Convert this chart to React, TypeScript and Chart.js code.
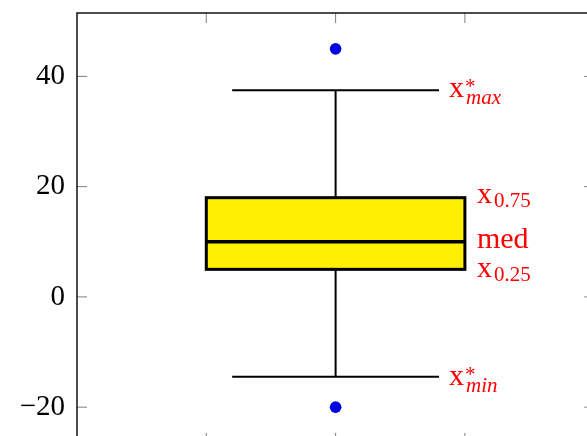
import React, { useEffect, useRef } from "react";
import { Chart, registerables } from "chart.js";

Chart.register(...registerables);

// Box plot statistics (single box at x = 1)
const boxPosition = [1];
const lowerWhisker = [-14.5];
const lowerQuartile = [5];
const medianValue = [10];
const upperQuartile = [18];
const upperWhisker = [37.5];
const outlierValues = [45, -20];

// Axis setup
const xRange = [0, 2];
const yRange = [-26.5, 51.5];
const xTicks = [0.5, 1, 1.5];
const yTicks = [-20, 0, 20, 40];

// Annotation texts: [main, superscript, subscript, italic subscript]
const labelMax = ["x", "*", "max", true];
const labelQ75 = ["x", "", "0.75", false];
const labelMed = ["med", "", "", false];
const labelQ25 = ["x", "", "0.25", false];
const labelMin = ["x", "*", "min", true];

const SERIF = '"Liberation Serif", "Times New Roman", serif';

function drawMath(
  ctx: CanvasRenderingContext2D,
  x: number,
  baseline: number,
  label: (string | boolean)[],
  subDrop: number
) {
  const [main, sup, sub, italic] = label as [string, string, string, boolean];
  ctx.font = `30px ${SERIF}`;
  ctx.fillText(main, x, baseline);
  const w = ctx.measureText(main).width;
  if (sup) {
    ctx.font = `21px ${SERIF}`;
    ctx.fillText(sup, x + w + 1, baseline - 4);
  }
  if (sub) {
    ctx.font = `${italic ? "italic " : ""}21px ${SERIF}`;
    ctx.fillText(sub, x + w + 2, baseline + subDrop);
  }
}

const boxPlotPlugin = {
  id: "boxPlot",
  beforeDatasetsDraw(chart: any) {
    const { ctx } = chart;
    const xs = chart.scales.x;
    const ys = chart.scales.y;
    boxPosition.forEach((pos, i) => {
      const cx = xs.getPixelForValue(pos);
      const bl = xs.getPixelForValue(pos - 0.5);
      const br = xs.getPixelForValue(pos + 0.5);
      const cl = xs.getPixelForValue(pos - 0.4);
      const cr = xs.getPixelForValue(pos + 0.4);
      const yLw = ys.getPixelForValue(lowerWhisker[i]);
      const yQ1 = ys.getPixelForValue(lowerQuartile[i]);
      const yMed = ys.getPixelForValue(medianValue[i]);
      const yQ3 = ys.getPixelForValue(upperQuartile[i]);
      const yUw = ys.getPixelForValue(upperWhisker[i]);
      ctx.save();
      ctx.strokeStyle = "#000";
      ctx.lineWidth = 2;
      ctx.beginPath();
      ctx.moveTo(cx, yQ3);
      ctx.lineTo(cx, yUw);
      ctx.moveTo(cl, yUw);
      ctx.lineTo(cr, yUw);
      ctx.moveTo(cx, yQ1);
      ctx.lineTo(cx, yLw);
      ctx.moveTo(cl, yLw);
      ctx.lineTo(cr, yLw);
      ctx.stroke();

      ctx.fillStyle = "#ffef00";
      ctx.fillRect(bl, yQ3, br - bl, yQ1 - yQ3);
      ctx.lineWidth = 3;
      ctx.strokeRect(bl, yQ3, br - bl, yQ1 - yQ3);
      ctx.lineWidth = 3.5;
      ctx.beginPath();
      ctx.moveTo(bl, yMed);
      ctx.lineTo(br, yMed);
      ctx.stroke();

      ctx.fillStyle = "#ff0000";
      ctx.textAlign = "left";
      ctx.textBaseline = "alphabetic";
      drawMath(ctx, cr + 10, yUw + 7, labelMax, 7);
      drawMath(ctx, br + 12, yQ3 + 5, labelQ75, 4);
      drawMath(ctx, br + 12, yMed + 6, labelMed, 0);
      drawMath(ctx, br + 12, yQ1 + 8, labelQ25, 4);
      drawMath(ctx, cr + 10, yLw + 8, labelMin, 7);
      ctx.restore();
    });
  },
  afterDraw(chart: any) {
    const { ctx, chartArea } = chart;
    const { left, right, top, bottom } = chartArea;
    const xs = chart.scales.x;
    const ys = chart.scales.y;
    ctx.save();
    ctx.strokeStyle = "rgba(0,0,0,0.5)";
    ctx.lineWidth = 1;
    const tl = 10;
    ctx.beginPath();
    yTicks.forEach((v) => {
      const y = ys.getPixelForValue(v);
      ctx.moveTo(left, y);
      ctx.lineTo(left + tl, y);
      ctx.moveTo(right, y);
      ctx.lineTo(right - tl, y);
    });
    xTicks.forEach((v) => {
      const x = xs.getPixelForValue(v);
      ctx.moveTo(x, top);
      ctx.lineTo(x, top + tl);
      ctx.moveTo(x, bottom);
      ctx.lineTo(x, bottom - tl);
    });
    ctx.stroke();
    ctx.strokeStyle = "#000";
    ctx.lineWidth = 1.4;
    ctx.strokeRect(left, top, right - left, bottom - top);
    ctx.restore();
  },
};

export default function App() {
  const canvasRef = useRef<HTMLCanvasElement | null>(null);

  useEffect(() => {
    if (!canvasRef.current) return;
    const chart = new Chart(canvasRef.current, {
      type: "scatter",
      data: {
        datasets: [
          {
            label: "outliers",
            data: outlierValues.map((v) => ({ x: boxPosition[0], y: v })),
            backgroundColor: "#0000e6",
            borderWidth: 0,
            pointRadius: 5.8,
          },
        ],
      },
      options: {
        responsive: false,
        maintainAspectRatio: false,
        animation: false,
        devicePixelRatio: 1,
        layout: { padding: { top: 13, right: 5, bottom: 7, left: 0 } },
        plugins: { legend: { display: false }, tooltip: { enabled: false } },
        scales: {
          x: { type: "linear", min: xRange[0], max: xRange[1], display: false },
          y: {
            type: "linear",
            min: yRange[0],
            max: yRange[1],
            grid: { display: false, drawTicks: false },
            border: { display: false },
            ticks: {
              color: "#000",
              padding: 12,
              font: { family: SERIF, size: 29 },
              callback: (v: any) => (v < 0 ? "\u2212" + Math.abs(v) : String(v)),
            },
            afterBuildTicks: (s: any) => {
              s.ticks = yTicks.map((v) => ({ value: v }));
            },
            afterFit: (s: any) => {
              s.width = 77;
              s.paddingTop = 0;
              s.paddingBottom = 0;
            },
          },
        },
      },
      plugins: [boxPlotPlugin],
    });
    return () => chart.destroy();
  }, []);

  return (
    <div
      style={{
        position: "fixed",
        left: 0,
        top: 0,
        width: 587,
        height: 436,
        overflow: "hidden",
        background: "#fff",
      }}
    >
      <canvas
        ref={canvasRef}
        width={600}
        height={450}
        style={{ display: "block", width: 600, height: 450 }}
      />
    </div>
  );
}
